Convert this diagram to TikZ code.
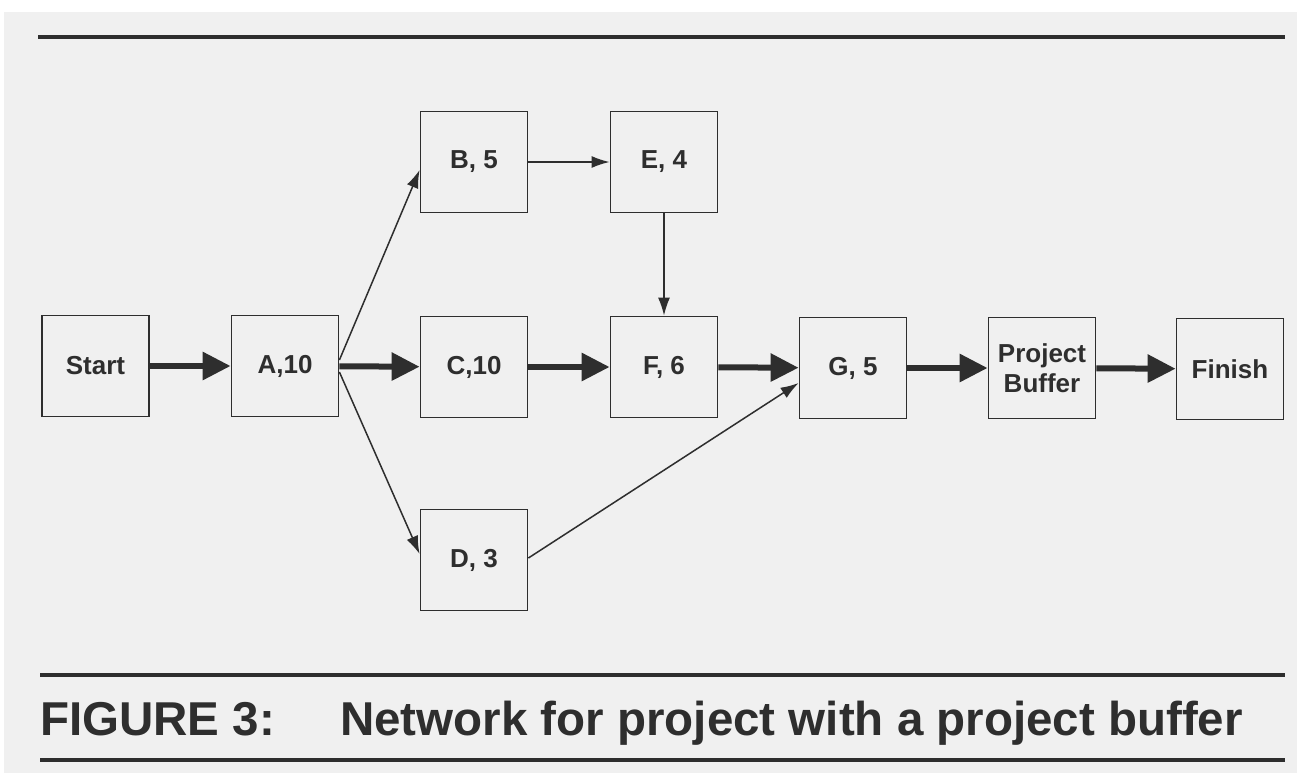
\documentclass[tikz,border=0pt]{standalone}
\usepackage{fontspec}
\setmainfont{Liberation Sans}
\usetikzlibrary{arrows.meta,calc}
\definecolor{bg}{HTML}{F0F0F0}
\definecolor{ink}{HTML}{2E2E2E}
\tikzset{
  box/.style={draw=ink, line width=1.8pt, fill=bg, minimum width=107pt, minimum height=101pt,
              inner sep=0pt, align=center, text=ink, font=\fontsize{26}{30}\selectfont\bfseries},
  bigarrow/.style={draw=ink, line width=6pt, -{Triangle[length=28pt,width=27pt]}},
  thinarrow/.style={draw=ink, line width=1.5pt, -{Latex[length=18pt,width=12pt]}},
  rulebar/.style={draw=ink, line width=3.5pt},
  captext/.style={anchor=base west, inner sep=0pt, text=ink, font=\fontsize{47.5}{50}\selectfont\bfseries}
}
\begin{document}
\begin{tikzpicture}[x=1pt,y=-1pt]
\useasboundingbox (0,0) rectangle (1297,773);
\fill[bg] (4,12) rectangle (1297,773);
% rules
\coordinate (r1a) at (38,37);  \coordinate (r1b) at (1285,37);
\coordinate (r2a) at (40,675); \coordinate (r2b) at (1285,675);
\coordinate (r3a) at (40,760); \coordinate (r3b) at (1285,760);
\draw[rulebar, line width=4pt] (r1a) -- (r1b);
\draw[rulebar] (r2a) -- (r2b);
\draw[rulebar] (r3a) -- (r3b);
% nodes
\node[box] (S)   at (95.5,366) {Start};
\node[box] (A)   at (285,366) {A,10};
\node[box] (B)   at (474,162) {B, 5};
\node[box] (C)   at (474,367) {C,10};
\node[box] (D)   at (474,560) {D, 3};
\node[box] (E)   at (664,162) {E, 4};
\node[box] (F)   at (664,367) {F, 6};
\node[box] (G)   at (853,368) {G, 5};
\node[box] (PB)  at (1042,368) {Project\\Buffer};
\node[box] (Fin) at (1230,369) {Finish};
% thick arrows
\draw[bigarrow] (S) -- (A);
\draw[bigarrow] (A) -- (C);
\draw[bigarrow] (C) -- (F);
\draw[bigarrow] (F) -- (G);
\draw[bigarrow] (G) -- (PB);
\draw[bigarrow] (PB) -- (Fin);
% thin arrows
\draw[thinarrow] ($(A.east)+(0,-6)$) -- ($(B.west)+(0,8)$);
\draw[thinarrow] ($(A.east)+(0,6)$) -- ($(D.west)+(0,-6)$);
\draw[thinarrow] (B) -- (E);
\draw[thinarrow] (E) -- (F);
\draw[thinarrow] ($(D.east)+(0,-2)$) -- ($(G.west)+(0,15)$);
% caption
\node[captext] (cap1) at (40,735) {FIGURE 3:};
\node[captext] (cap2) at (340,735) {Network for project with a project buffer};
\end{tikzpicture}
\end{document}
